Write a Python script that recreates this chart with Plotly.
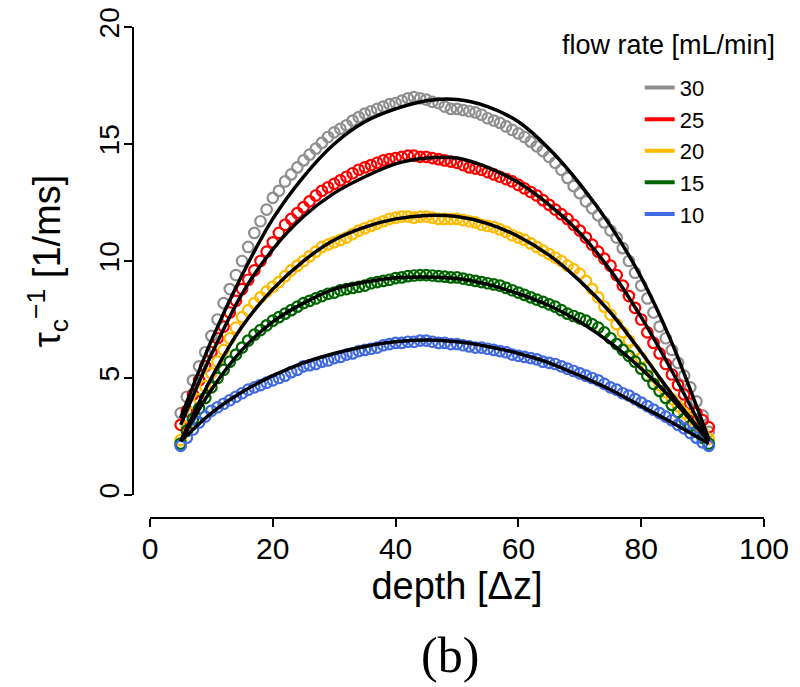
import plotly.graph_objects as go

depth = [5, 6, 7, 8, 9, 10, 11, 12, 13, 14, 15, 16, 17, 18, 19, 20, 21, 22, 23, 24,
         25, 26, 27, 28, 29, 30, 31, 32, 33, 34, 35, 36, 37, 38, 39, 40, 41, 42, 43, 44,
         45, 46, 47, 48, 49, 50, 51, 52, 53, 54, 55, 56, 57, 58, 59, 60, 61, 62, 63, 64,
         65, 66, 67, 68, 69, 70, 71, 72, 73, 74, 75, 76, 77, 78, 79, 80, 81, 82, 83, 84,
         85, 86, 87, 88, 89, 90, 91]

rate_30 = [3.5, 4.2, 4.9, 5.5, 6.1, 6.8, 7.5, 8.2, 8.8, 9.4, 10.0, 10.6, 11.2, 11.7, 12.2,
           12.7, 13.0, 13.4, 13.7, 14.0, 14.3, 14.55, 14.8, 15.05, 15.3, 15.5, 15.65, 15.8,
           16.0, 16.15, 16.3, 16.4, 16.5, 16.6, 16.7, 16.75, 16.85, 16.95, 17.0, 16.95, 16.9,
           16.8, 16.75, 16.6, 16.5, 16.5, 16.45, 16.4, 16.35, 16.25, 16.1, 16.0, 15.9, 15.75,
           15.6, 15.45, 15.3, 15.1, 14.9, 14.7, 14.45, 14.2, 13.9, 13.55, 13.2, 12.9, 12.55,
           12.25, 11.95, 11.65, 11.3, 11.0, 10.55, 10.0, 9.5, 8.95, 8.4, 7.8, 7.2, 6.7, 6.2,
           5.65, 5.1, 4.6, 4.0, 3.4, 2.7]
rate_25 = [3.0, 3.6, 4.3, 4.9, 5.5, 6.1, 6.7, 7.2, 7.8, 8.3, 8.8, 9.2, 9.6, 10.0, 10.4,
           10.8, 11.2, 11.55, 11.8, 12.05, 12.3, 12.55, 12.8, 13.0, 13.15, 13.3, 13.45, 13.6,
           13.75, 13.9, 14.0, 14.1, 14.2, 14.3, 14.35, 14.4, 14.45, 14.5, 14.5, 14.45, 14.45,
           14.4, 14.35, 14.3, 14.25, 14.2, 14.1, 14.0, 13.95, 13.9, 13.8, 13.7, 13.6, 13.5,
           13.4, 13.25, 13.1, 12.95, 12.8, 12.6, 12.4, 12.2, 12.0, 11.8, 11.55, 11.3, 11.0,
           10.7, 10.4, 10.1, 9.8, 9.4, 8.95, 8.5, 8.0, 7.5, 6.95, 6.5, 6.05, 5.6, 5.15, 4.7,
           4.3, 3.9, 3.5, 3.2, 2.9]
rate_20 = [2.35, 2.9, 3.5, 4.1, 4.65, 5.2, 5.7, 6.2, 6.7, 7.15, 7.6, 7.9, 8.2, 8.45, 8.7,
           8.9, 9.1, 9.35, 9.6, 9.8, 10.0, 10.2, 10.4, 10.6, 10.7, 10.8, 10.9, 11.0, 11.15,
           11.3, 11.4, 11.5, 11.6, 11.7, 11.8, 11.85, 11.9, 11.9, 11.85, 11.9, 11.9, 11.85,
           11.8, 11.8, 11.8, 11.8, 11.75, 11.7, 11.65, 11.55, 11.5, 11.45, 11.35, 11.25, 11.1,
           11.0, 10.9, 10.75, 10.6, 10.45, 10.3, 10.15, 10.0, 9.8, 9.65, 9.45, 9.15, 8.8,
           8.45, 8.05, 7.7, 7.3, 6.95, 6.6, 6.2, 5.85, 5.45, 5.05, 4.7, 4.4, 4.1, 3.8, 3.5,
           3.25, 3.0, 2.7, 2.4]
rate_15 = [2.2, 2.75, 3.25, 3.7, 4.15, 4.6, 5.0, 5.35, 5.7, 6.0, 6.3, 6.6, 6.85, 7.05, 7.25,
           7.45, 7.6, 7.75, 7.9, 8.05, 8.2, 8.3, 8.4, 8.5, 8.6, 8.65, 8.75, 8.8, 8.85, 8.9,
           8.95, 9.05, 9.1, 9.15, 9.2, 9.27, 9.3, 9.35, 9.38, 9.4, 9.4, 9.38, 9.35, 9.33, 9.3,
           9.3, 9.25, 9.2, 9.15, 9.1, 9.05, 9.0, 8.95, 8.85, 8.75, 8.65, 8.55, 8.45, 8.35,
           8.25, 8.15, 8.05, 7.9, 7.75, 7.65, 7.55, 7.45, 7.3, 7.15, 6.95, 6.7, 6.45, 6.2,
           5.95, 5.7, 5.4, 5.1, 4.75, 4.45, 4.15, 3.85, 3.55, 3.25, 2.95, 2.7, 2.45, 2.2]
rate_10 = [2.1, 2.45, 2.8, 3.1, 3.35, 3.6, 3.75, 3.9, 4.05, 4.2, 4.35, 4.5, 4.6, 4.7, 4.8,
           4.9, 5.0, 5.1, 5.25, 5.35, 5.5, 5.55, 5.6, 5.7, 5.75, 5.85, 5.9, 6.0, 6.05, 6.15,
           6.2, 6.25, 6.3, 6.4, 6.45, 6.5, 6.5, 6.55, 6.55, 6.6, 6.6, 6.55, 6.5, 6.5, 6.45,
           6.45, 6.4, 6.35, 6.3, 6.3, 6.25, 6.2, 6.15, 6.1, 6.0, 5.95, 5.9, 5.85, 5.8, 5.7,
           5.65, 5.6, 5.5, 5.4, 5.3, 5.2, 5.1, 5.0, 4.9, 4.75, 4.6, 4.5, 4.35, 4.25, 4.1,
           3.95, 3.8, 3.65, 3.5, 3.35, 3.2, 3.0, 2.85, 2.65, 2.45, 2.25, 2.1]

fit_depth = [5, 10, 15, 20, 25, 30, 35, 40, 45, 50, 55, 60, 65, 70, 75, 80, 85, 91]
fit_30 = [3.3, 6.6, 9.4, 11.8, 13.6, 15.0, 15.95, 16.5, 16.85, 16.9, 16.6, 15.95, 14.8,
          13.3, 11.5, 9.3, 6.5, 2.4]
fit_25 = [3.0, 6.0, 8.6, 10.5, 11.9, 12.9, 13.6, 14.15, 14.4, 14.4, 14.0, 13.35, 12.4,
          11.2, 9.6, 7.6, 5.3, 2.3]
fit_20 = [2.3, 5.0, 7.2, 8.8, 10.0, 10.9, 11.45, 11.8, 11.95, 11.9, 11.6, 11.05, 10.25,
          9.15, 7.8, 6.1, 4.3, 2.3]
fit_15 = [2.3, 4.5, 6.2, 7.4, 8.2, 8.8, 9.1, 9.28, 9.32, 9.25, 9.0, 8.6, 8.1, 7.4, 6.5,
          5.4, 4.1, 2.3]
fit_10 = [2.3, 3.5, 4.4, 5.1, 5.65, 6.05, 6.35, 6.55, 6.62, 6.55, 6.35, 6.05, 5.65, 5.1,
          4.5, 3.8, 3.1, 2.2]

labels = ["30", "25", "20", "15", "10"]
colors = ["#8f8f8f", "#ff0000", "#ffbb00", "#006400", "#4169e1"]
series = [rate_30, rate_25, rate_20, rate_15, rate_10]
fits = [fit_30, fit_25, fit_20, fit_15, fit_10]

FONT = "Liberation Sans, Arial, sans-serif"

fig = go.Figure()
for lab, col, ys in zip(labels, colors, series):
    fig.add_trace(go.Scatter(
        x=depth, y=ys, mode="markers", showlegend=False, cliponaxis=False,
        marker=dict(symbol="circle-open", size=10.5, color=col, line=dict(width=2.2, color=col)),
    ))
for fy in fits:
    fig.add_trace(go.Scatter(
        x=fit_depth, y=fy, mode="lines", showlegend=False, cliponaxis=False,
        line=dict(color="black", width=3.5, shape="spline", smoothing=0.8),
    ))
for lab, col in zip(labels, colors):
    fig.add_trace(go.Scatter(
        x=[None], y=[None], mode="lines", name=lab,
        line=dict(color=col, width=4),
    ))

fig.update_layout(
    width=792, height=679,
    margin=dict(l=125, r=36, t=19, b=169, autoexpand=False),
    paper_bgcolor="white", plot_bgcolor="white",
    font=dict(family=FONT, color="black", size=26),
    xaxis=dict(
        domain=[0.0269, 1], range=[0, 100], anchor="free", position=0,
        showline=True, linecolor="black", linewidth=2,
        ticks="outside", ticklen=8, tickwidth=2, tickcolor="black",
        tickvals=[0, 20, 40, 60, 80, 100], tickfont=dict(size=30),
        ticklabeloverflow="allow", ticklabelstandoff=-4,
        showgrid=False, zeroline=False,
        title=dict(text="depth [Δz]", font=dict(size=38), standoff=4),
    ),
    yaxis=dict(
        domain=[0.0468, 1], range=[0, 20], anchor="free", position=0,
        showline=True, linecolor="black", linewidth=2,
        ticks="outside", ticklen=8, tickwidth=2, tickcolor="black",
        tickvals=[0, 5, 10, 15, 20], tickangle=-90, tickfont=dict(size=28),
        ticklabeloverflow="allow", ticklabelstandoff=-6,
        showgrid=False, zeroline=False,
        title=dict(text="τ<sub>c</sub><sup>−1</sup> [1/ms]", font=dict(size=38), standoff=20),
    ),
    legend=dict(
        x=0.803, y=0.919, xanchor="left", yanchor="top",
        font=dict(size=22), bgcolor="rgba(0,0,0,0)", tracegroupgap=0,
    ),
    annotations=[
        dict(text="flow rate [mL/min]", xref="paper", yref="paper", x=0.849, y=0.963,
             xanchor="center", yanchor="middle", showarrow=False, font=dict(size=27)),
        dict(text="(b)", xref="paper", yref="paper", x=0.503, y=-0.279,
             xanchor="center", yanchor="middle", showarrow=False,
             font=dict(size=50, family="Liberation Serif, Times New Roman, serif")),
    ],
)

fig.write_html("out.html")
